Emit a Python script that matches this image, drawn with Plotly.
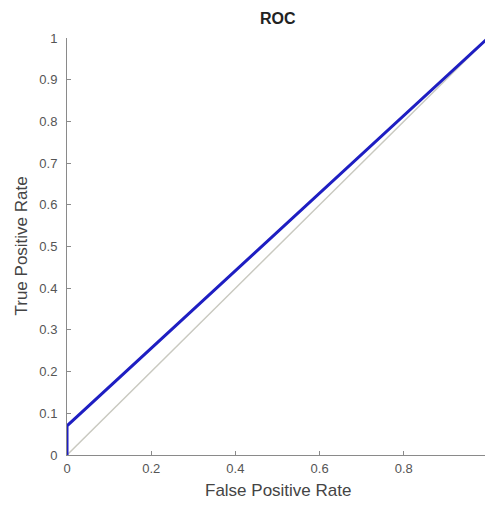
import plotly.graph_objects as go

roc_fpr = [0, 0, 1]
roc_tpr = [0, 0.07, 1]
diag_x = [0, 1]
diag_y = [0, 1]
x_ticks = [0, 0.2, 0.4, 0.6, 0.8, 1]
x_labels = ["0", "0.2", "0.4", "0.6", "0.8", "1"]
y_ticks = [0, 0.1, 0.2, 0.3, 0.4, 0.5, 0.6, 0.7, 0.8, 0.9, 1]
y_labels = ["0", "0.1", "0.2", "0.3", "0.4", "0.5", "0.6", "0.7", "0.8", "0.9", "1"]

FONT = "Liberation Sans, Arial, sans-serif"
W, H = 485, 506
L, R, T, B = 67, 0, 38, 51
PW, PH = W - L - R, H - T - B
UNIT_W = 421  # pixels spanned by x from 0 to 1 in the reference
X_MAX = PW / UNIT_W

fig = go.Figure()
fig.add_trace(go.Scatter(x=diag_x, y=diag_y, mode="lines",
                         line=dict(color="#c9c9c0", width=1.5), showlegend=False,
                         hoverinfo="skip"))
fig.add_trace(go.Scatter(x=roc_fpr, y=roc_tpr, mode="lines",
                         line=dict(color="#1e1ec2", width=3), showlegend=False,
                         hoverinfo="skip"))

axis_common = dict(showgrid=False, zeroline=False, showline=True, linecolor="#8a8a8a",
                   linewidth=1, ticks="inside", ticklen=4, tickcolor="#8a8a8a", automargin=False,
                   tickfont=dict(family=FONT, size=13, color="#555555"))

fig.update_layout(
    width=W, height=H,
    margin=dict(l=L, r=R, t=T, b=B, autoexpand=False),
    paper_bgcolor="white", plot_bgcolor="white",
    hovermode=False,
    xaxis=dict(range=[0, X_MAX], tickvals=x_ticks, ticktext=x_labels, ticklabelstandoff=1,
               **axis_common),
    yaxis=dict(range=[0, 1], tickvals=y_ticks, ticktext=y_labels, ticklabelstandoff=6,
               **axis_common),
    annotations=[
        dict(text="<b>ROC</b>", xref="paper", yref="paper", x=(278 - L) / PW, y=1 + 20 / PH,
             xanchor="center", yanchor="middle", showarrow=False,
             font=dict(family=FONT, size=16, color="#222222")),
        dict(text="False Positive Rate", xref="paper", yref="paper", x=(278 - L) / PW,
             y=-35.5 / PH, xanchor="center", yanchor="middle", showarrow=False,
             font=dict(family=FONT, size=17, color="#444444")),
        dict(text="True Positive Rate", xref="paper", yref="paper", x=(21 - L) / PW, y=0.5,
             xanchor="center", yanchor="middle", textangle=-90, showarrow=False,
             font=dict(family=FONT, size=17, color="#444444")),
    ],
)
fig.write_html(
    "out.html",
    config={"displayModeBar": False, "staticPlot": True},
    post_script="document.body.style.margin='0';"
                "document.documentElement.style.overflow='hidden';"
                "document.body.style.overflow='hidden';",
)
